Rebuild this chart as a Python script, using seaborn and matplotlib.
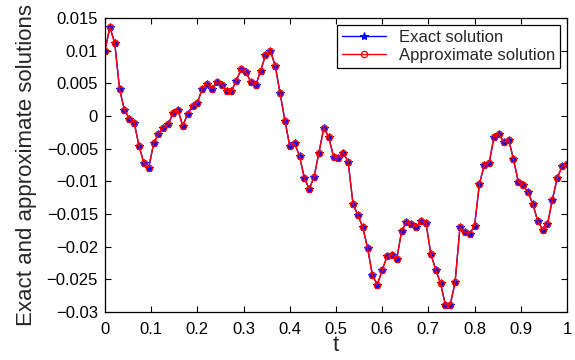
import numpy as np
import pandas as pd
import seaborn as sns
import matplotlib
matplotlib.use("Agg")
import matplotlib.pyplot as plt
from matplotlib.ticker import FixedLocator, FixedFormatter

# values (96 samples on [0, 1])
exact = [0.0100, 0.0136, 0.0112, 0.0041, 0.0009, -0.0004, -0.0010, -0.0046,
         -0.0072, -0.0079, -0.0042, -0.0027, -0.0018, -0.0013, 0.0005, 0.0009,
         -0.0015, 0.0003, 0.0016, 0.0020, 0.0042, 0.0049, 0.0042, 0.0052,
         0.0048, 0.0038, 0.0038, 0.0054, 0.0072, 0.0067, 0.0052, 0.0047,
         0.0069, 0.0093, 0.0100, 0.0077, 0.0035, -0.0007, -0.0046, -0.0042,
         -0.0061, -0.0095, -0.0112, -0.0093, -0.0056, -0.0018, -0.0032, -0.0062,
         -0.0064, -0.0056, -0.0070, -0.0134, -0.0152, -0.0170, -0.0202, -0.0244,
         -0.0258, -0.0236, -0.0215, -0.0212, -0.0219, -0.0176, -0.0162, -0.0166,
         -0.0170, -0.0161, -0.0163, -0.0211, -0.0235, -0.0256, -0.0289, -0.0289,
         -0.0254, -0.0170, -0.0178, -0.0180, -0.0168, -0.0104, -0.0075, -0.0072,
         -0.0032, -0.0027, -0.0040, -0.0036, -0.0066, -0.0101, -0.0106, -0.0117,
         -0.0135, -0.0161, -0.0174, -0.0166, -0.0128, -0.0095, -0.0077, -0.0074]
approx = exact  # visually identical to the exact curve
t = np.linspace(0, 1, len(exact))

xticks = [0, 0.1, 0.2, 0.3, 0.4, 0.5, 0.6, 0.7, 0.8, 0.9, 1]
xticklabels = ["0", "0.1", "0.2", "0.3", "0.4", "0.5", "0.6", "0.7", "0.8", "0.9", "1"]
yticks = [0.015, 0.01, 0.005, 0, -0.005, -0.01, -0.015, -0.02, -0.025, -0.03]
yticklabels = ["0.015", "0.01", "0.005", "0", "\u22120.005", "\u22120.01", "\u22120.015",
               "\u22120.02", "\u22120.025", "\u22120.03"]

df = pd.DataFrame({"t": t, "exact": exact, "approx": approx})

sns.set_style("ticks")
plt.rcParams["font.family"] = ["Liberation Sans", "DejaVu Sans"]

fig = plt.figure(figsize=(5.75, 3.6), dpi=100)
ax = fig.add_axes([0.1826, 0.1333, 0.8034, 0.8167])

sns.lineplot(data=df, x="t", y="exact", ax=ax, color="blue", lw=1,
             marker="*", markersize=6, markeredgecolor="blue",
             label="Exact solution")
sns.lineplot(data=df, x="t", y="approx", ax=ax, color="red", lw=1,
             marker="o", markersize=4.5, markerfacecolor="none",
             markeredgecolor="red", markeredgewidth=0.9,
             label="Approximate solution")

ax.set_xlim(0, 1)
ax.set_ylim(-0.03, 0.015)
ax.xaxis.set_major_locator(FixedLocator(xticks))
ax.xaxis.set_major_formatter(FixedFormatter(xticklabels))
ax.yaxis.set_major_locator(FixedLocator(yticks))
ax.yaxis.set_major_formatter(FixedFormatter(yticklabels))
ax.tick_params(direction="in", top=True, right=True, length=4, width=0.8,
               labelsize=12, colors="black")
ax.tick_params(axis="x", pad=7)
ax.tick_params(axis="y", pad=5)
for s in ax.spines.values():
    s.set_color("black")
    s.set_linewidth(0.9)

ax.set_xlabel("t", fontsize=16, labelpad=-1)
ax.set_ylabel("Exact and approximate solutions", fontsize=16, labelpad=7)

leg = ax.legend(loc="upper right", fontsize=12, frameon=True, fancybox=False,
                edgecolor="black", framealpha=1, borderpad=0.3,
                handlelength=2.6, labelspacing=0.2, borderaxespad=0.4)
leg.get_frame().set_linewidth(0.9)

fig.savefig("out.png", dpi=100)
